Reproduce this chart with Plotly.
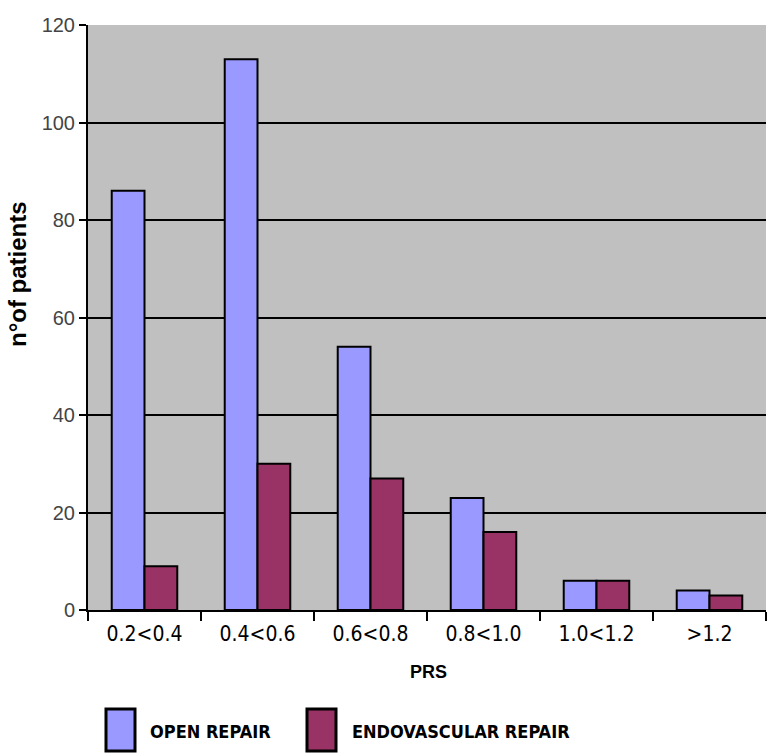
import plotly.graph_objects as go

categories = ["0.2<0.4", "0.4<0.6", "0.6<0.8", "0.8<1.0", "1.0<1.2", ">1.2"]
open_repair = [86, 113, 54, 23, 6, 4]
endo_repair = [9, 30, 27, 16, 6, 3]
series_names = ["OPEN REPAIR", "ENDOVASCULAR REPAIR"]
colors = ["#9999ff", "#993366"]
y_ticks = [0, 20, 40, 60, 80, 100, 120]
x_title = "PRS"
y_title = "n°of patients"

fig = go.Figure()
for name, vals, col in zip(series_names, [open_repair, endo_repair], colors):
    fig.add_trace(go.Bar(x=categories, y=vals, name=name, marker_color=col,
                         marker_line_color="black", marker_line_width=2,
                         showlegend=False))

narrow = "DejaVu Sans Condensed, sans-serif"
arial = "Liberation Sans, Arial, sans-serif"
PW, PH, L, B = 678, 585, 88, 610

fig.update_layout(
    width=771, height=754,
    margin=dict(l=L, r=5, t=25, b=144),
    paper_bgcolor="white", plot_bgcolor="#c0c0c0",
    barmode="group", bargap=0.42, bargroupgap=0,
    xaxis=dict(showline=True, linecolor="black", linewidth=2, automargin=False,
               ticks="outside", tickson="boundaries", ticklen=9,
               tickwidth=2, tickcolor="black", ticklabelstandoff=4,
               tickfont=dict(family=narrow, size=21, color="black")),
    yaxis=dict(range=[0, 120], tickvals=y_ticks, showline=True, linecolor="black",
               linewidth=2, ticks="outside", ticklen=7, tickwidth=2, tickcolor="black",
               showgrid=True, gridcolor="black", gridwidth=2, zeroline=False,
               automargin=False,
               tickfont=dict(family=arial, size=20, color="#444444")),
)

# axis titles
fig.add_annotation(text="<b>" + x_title + "</b>", xref="paper", yref="paper",
                   x=(428 - L) / PW, y=-(672 - B) / PH, xanchor="center", yanchor="middle",
                   showarrow=False, font=dict(family=arial, size=18, color="black"))
fig.add_annotation(text="<b>" + y_title + "</b>", xref="paper", yref="paper",
                   x=(17 - L) / PW, y=(B - 274) / PH, xanchor="center", yanchor="middle",
                   textangle=-90, showarrow=False,
                   font=dict(family=arial, size=24, color="black"))

# legend drawn as boxes + labels at the bottom
legend_items = [(106, 148), (307, 350)]
for (x0, tx), name, col in zip(legend_items, series_names, colors):
    fig.add_shape(type="rect", xref="paper", yref="paper",
                  x0=(x0 - L) / PW, x1=(x0 + 29 - L) / PW,
                  y0=-(751 - B) / PH, y1=-(709 - B) / PH,
                  fillcolor=col, line=dict(color="black", width=3))
    fig.add_annotation(text="<b>" + name + "</b>", xref="paper", yref="paper",
                       x=(tx - L) / PW, y=-(731 - B) / PH,
                       xanchor="left", yanchor="middle", showarrow=False,
                       font=dict(family=narrow, size=18, color="black"))

fig.write_html("out.html", config={"displayModeBar": False},
               post_script="document.body.style.margin='0';document.body.style.overflow='hidden';")
